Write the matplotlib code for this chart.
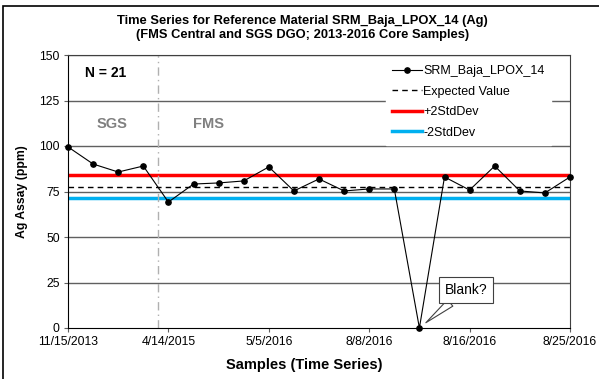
import matplotlib
matplotlib.use("Agg")
import matplotlib.pyplot as plt
from matplotlib.patches import Rectangle

plt.rcParams['font.family'] = ['Liberation Sans', 'DejaVu Sans']

# Assay results in sample order (categorical time axis)
assay_ppm = [99.5, 90.1, 85.7, 89.0, 69.2, 79.1, 79.7, 80.8, 88.5, 75.3,
             81.9, 75.3, 76.4, 76.4, 0.0, 83.0, 75.8, 89.0, 75.3, 74.2, 83.0]
tick_labels = ["11/15/2013", "4/14/2015", "5/5/2016", "8/8/2016",
               "8/16/2016", "8/25/2016"]
tick_every = 4
expected_value = 77.6
plus_2sd = 83.9
minus_2sd = 71.3
lab_switch = 3.58  # SGS -> FMS change between samples 4 and 5

fig = plt.figure(figsize=(5.99, 3.79), dpi=100)
ax = fig.add_axes([68/599, 1-328/379, (570-68)/599, (328-55)/379])

n = len(assay_ppm)
x = list(range(n))

for yv in range(25, 151, 25):
    ax.axhline(yv, color='#606060', lw=1.0, zorder=1)

ax.axhline(plus_2sd, color='#ff0000', lw=2.5, zorder=2, label='+2StdDev')
ax.axhline(minus_2sd, color='#00b0f0', lw=2.5, zorder=2, label='-2StdDev')
ax.axhline(expected_value, color='black', lw=1.0, ls=(0, (4, 3)), zorder=3,
           label='Expected Value')
ax.axvline(lab_switch, color='#b0b0b0', lw=1.0, ls=(0, (6, 3, 1, 3)), zorder=2)
ax.plot(x, assay_ppm, color='black', lw=0.8, marker='o', ms=3.8, zorder=4,
        label='SRM_Baja_LPOX_14', clip_on=False)

ax.set_xlim(0, n - 1)
ax.set_ylim(0, 150)
ax.set_yticks(range(0, 151, 25))
ax.set_xticks(range(0, n, tick_every))
ax.set_xticklabels(tick_labels)
ax.tick_params(axis='both', labelsize=8.8, length=3, color='#606060',
               labelcolor='black', pad=3)
ax.tick_params(axis='x', direction='out')
for s in ['left', 'bottom']:
    ax.spines[s].set_color('black')
for s in ['top', 'right']:
    ax.spines[s].set_color('#404040')

ax.set_ylabel('Ag Assay (ppm)', fontsize=8.8, fontweight='bold', labelpad=8)
ax.set_xlabel('Samples (Time Series)', fontsize=10.5, fontweight='bold')
ax.xaxis.set_label_coords((304 - 68) / 502, -(365 - 328) / 273)
ax.xaxis.label.set_va('center')
fig.text(0.505, 1-15/379, 'Time Series for Reference Material SRM_Baja_LPOX_14 (Ag)\n'
         '(FMS Central and SGS DGO; 2013-2016 Core Samples)',
         ha='center', va='top', fontsize=9.3, fontweight='bold', linespacing=1.2)

ax.text(0.68, 140, 'N = 21', fontsize=10, fontweight='bold', va='center')
ax.text(1.75, 112, 'SGS', fontsize=10.5, fontweight='bold', color='#808080',
        ha='center', va='center')
ax.text(5.58, 112, 'FMS', fontsize=10.5, fontweight='bold', color='#808080',
        ha='center', va='center')

handles, labels = ax.get_legend_handles_labels()
order = [3, 2, 0, 1]
leg = ax.legend([handles[i] for i in order], [labels[i] for i in order],
                loc='upper right', bbox_to_anchor=(0.962, 0.985), fontsize=9,
                frameon=True, fancybox=False, framealpha=1, edgecolor='white',
                handlelength=2.4, handletextpad=0.1, labelspacing=0.68,
                borderpad=0.5, borderaxespad=0)
leg.set_zorder(6)

ax.annotate('Blank?', xy=(14, 0), xytext=(15.86, 20.9), fontsize=10,
            ha='center', va='center', zorder=7,
            bbox=dict(boxstyle='square,pad=0.4', fc='white', ec='#404040', lw=0.8),
            arrowprops=dict(arrowstyle='wedge,tail_width=0.6', fc='white',
                            ec='#404040', lw=0.8, shrinkA=0, shrinkB=6))

fig.patches.append(Rectangle((3/599, -0.05), 1.1, 1 - 6/379 + 0.05,
                             transform=fig.transFigure, fill=False,
                             ec='black', lw=1.2))

fig.savefig('out.png', dpi=100)
